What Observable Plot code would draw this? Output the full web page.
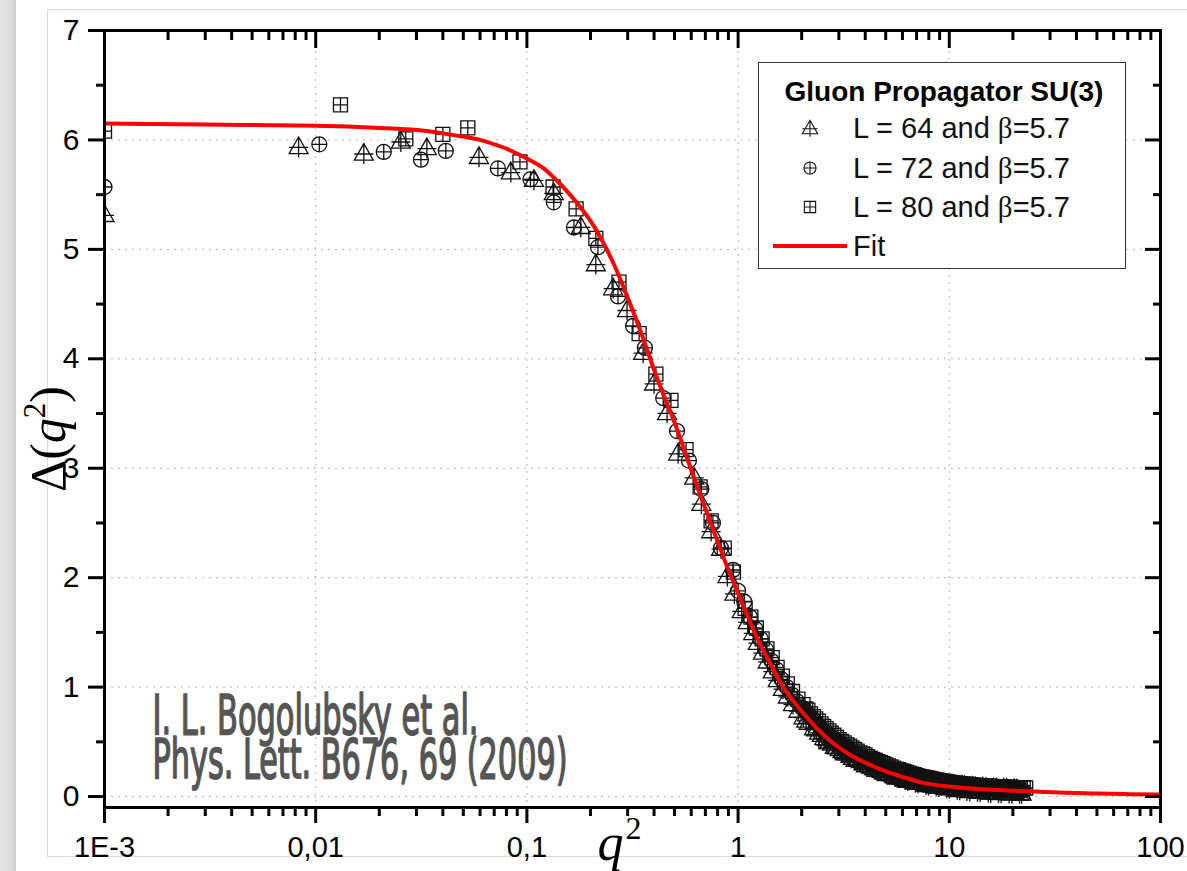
<!DOCTYPE html>
<html><head><meta charset="utf-8">
<script src="https://cdn.jsdelivr.net/npm/d3@7"></script>
<script src="https://cdn.jsdelivr.net/npm/@observablehq/plot@0.6"></script>
<style>
html,body{margin:0;padding:0;background:#fff;}
#wrap{position:relative;width:1187px;height:871px;overflow:hidden;background:#fff;}
#strip{position:absolute;left:0;top:0;width:16px;height:871px;background:linear-gradient(to right,#e6e6e6,#dcdcdc 70%,#cdcdcd);}
#card{position:absolute;left:47px;top:9px;width:1200px;height:848px;border:1px solid #dadada;box-sizing:border-box;}
#chart{position:absolute;left:0;top:0;}
#legend{position:absolute;left:758px;top:62px;width:368px;height:207px;border:1.5px solid #333;background:#fff;box-sizing:border-box;}
</style></head><body>
<div id="wrap"><div id="strip"></div><div id="card"></div><div id="chart"></div><div id="legend"></div></div>
<script>
// ---------- data ----------
const seriesNames = ["L = 64 and \u03b2=5.7", "L = 72 and \u03b2=5.7", "L = 80 and \u03b2=5.7"];

const q2_L64 = [0.001,0.0083,0.0169,0.0253,0.0336,0.0593,0.0839,0.108,0.134,0.180,0.212,0.256,0.298,0.355,0.40,0.461,0.52,0.62,0.67,0.745,0.83,0.89,0.96,1.04,
  1.11,1.18,1.24,1.31,1.38,1.46,1.54,1.63,1.72,1.82,1.93,2.04,2.16,2.29,2.42,2.56,2.71,2.87,3.03,3.21,3.40,3.60,3.81,4.03,4.27,4.52,4.78,5.06,5.36,5.67,6.00,6.35,6.72,7.11,7.53,7.97,8.43,8.92,9.44,9.99,10.6,11.2,11.8,12.5,13.3,14.0,14.9,15.7,16.7,17.6,18.7,19.8,20.9,22.0,
  2.10,2.35,2.49,2.64,2.79,2.95,3.12,3.30,3.50,3.70,3.92,4.15,4.40,4.65,4.92,5.21,5.52,5.83,6.17,6.53,6.91,7.32,7.75,8.20,8.67,9.18,9.71,10.3,10.9,11.5,12.1,12.9,13.6,14.4,15.3,16.2,17.1,18.1,19.2,20.3,21.5];
const d_L64 = [5.32,5.94,5.88,5.99,5.93,5.85,5.71,5.64,5.52,5.21,4.87,4.65,4.45,4.06,3.78,3.51,3.14,2.92,2.68,2.43,2.27,2.02,1.86,1.70,
  1.60,1.50,1.41,1.32,1.24,1.15,1.07,0.99,0.92,0.85,0.79,0.73,0.68,0.63,0.59,0.54,0.51,0.46,0.44,0.40,0.38,0.34,0.33,0.29,0.28,0.25,0.24,0.21,0.21,0.18,0.18,0.15,0.16,0.13,0.14,0.11,0.125,0.095,0.115,0.08,0.105,0.065,0.10,0.055,0.09,0.048,0.085,0.042,0.08,0.038,0.075,0.034,0.07,0.032,
  0.70,0.62,0.57,0.53,0.49,0.46,0.42,0.40,0.36,0.345,0.31,0.295,0.265,0.255,0.225,0.215,0.19,0.185,0.16,0.16,0.135,0.145,0.115,0.13,0.10,0.12,0.085,0.11,0.07,0.105,0.06,0.095,0.052,0.09,0.045,0.082,0.04,0.078,0.036,0.072,0.033];

const q2_L72 = [0.001,0.0104,0.0210,0.0315,0.0413,0.0729,0.104,0.134,0.167,0.217,0.27,0.318,0.362,0.442,0.514,0.585,0.67,0.76,0.83,0.946,1.0,
  1.07,1.14,1.21,1.28,1.36,1.44,1.52,1.61,1.70,1.80,1.90,2.01,2.13,2.25,2.38,2.52,2.66,2.82,2.98,3.15,3.33,3.52,3.73,3.94,4.17,4.41,4.67,4.94,5.22,5.52,5.84,6.18,6.53,6.91,7.31,7.73,8.17,8.64,9.14,9.67,10.2,10.8,11.4,12.1,12.8,13.5,14.3,15.1,16.0,16.9,17.9,18.9,20.0,21.2,22.4,
  2.07,2.19,2.31,2.45,2.59,2.74,2.90,3.06,3.24,3.42,3.62,3.83,4.05,4.29,4.54,4.80,5.08,5.37,5.68,6.01,6.35,6.72,7.11,7.52,7.95,8.40,8.89,9.40,9.94,10.5,11.1,11.7,12.4,13.1,13.9,14.7,15.5,16.4,17.4,18.4,19.4,20.6,21.8];
const d_L72 = [5.57,5.96,5.89,5.82,5.90,5.74,5.64,5.43,5.20,5.02,4.57,4.30,4.10,3.64,3.34,3.07,2.81,2.50,2.27,2.07,1.88,
  1.78,1.64,1.53,1.44,1.34,1.24,1.16,1.07,1.00,0.93,0.87,0.81,0.76,0.71,0.66,0.61,0.57,0.53,0.49,0.46,0.43,0.40,0.37,0.345,0.32,0.30,0.28,0.26,0.24,0.22,0.205,0.19,0.175,0.16,0.15,0.14,0.13,0.12,0.115,0.105,0.10,0.095,0.09,0.085,0.08,0.076,0.072,0.07,0.066,0.064,0.062,0.06,0.058,0.056,0.054,
  0.79,0.735,0.69,0.635,0.59,0.55,0.51,0.475,0.445,0.415,0.385,0.36,0.33,0.31,0.29,0.27,0.25,0.23,0.21,0.195,0.18,0.168,0.155,0.145,0.135,0.125,0.118,0.11,0.102,0.098,0.092,0.088,0.082,0.078,0.074,0.071,0.068,0.065,0.063,0.061,0.059,0.057,0.055];

const q2_L80 = [0.001,0.0131,0.0267,0.040,0.0525,0.0927,0.133,0.171,0.212,0.273,0.34,0.408,0.481,0.567,0.661,0.745,0.86,0.95,1.08,
  1.15,1.22,1.30,1.37,1.45,1.53,1.62,1.71,1.81,1.92,2.03,2.14,2.27,2.40,2.54,2.69,2.84,3.01,3.18,3.37,3.56,3.77,3.99,4.22,4.47,4.73,5.00,5.29,5.60,5.93,6.27,6.64,7.02,7.43,7.86,8.32,8.80,9.31,9.85,10.4,11.0,11.7,12.3,13.1,13.8,14.6,15.5,16.4,17.3,18.3,19.4,20.5,21.7,23.0,
  2.6,3.1,3.6,4.1,4.7,5.4,6.2,7.1,8.1,9.2,10.5,11.9,13.5,15.3,17.3,19.6,22.2,
  2.09,2.2,2.33,2.47,2.61,2.76,2.92,3.09,3.27,3.46,3.66,3.88,4.10,4.34,4.60,4.86,5.14,5.44,5.76,6.10,6.45,6.83,7.22,7.64,8.09,8.56,9.05,9.58,10.1,10.7,11.3,12.0,12.7,13.4,14.2,15.0,15.9,16.8,17.8,18.8,19.9,21.1,22.4,
  2.85,3.35,3.85,4.4,5.0,5.8,6.6,7.6,8.6,9.8,11.2,12.7,14.4,16.3,18.4,20.8];
const d_L80 = [6.08,6.32,6.01,6.05,6.11,5.80,5.57,5.37,5.10,4.70,4.23,3.86,3.62,3.17,2.83,2.52,2.27,2.05,1.72,
  1.64,1.54,1.44,1.35,1.27,1.18,1.10,1.03,0.96,0.89,0.84,0.79,0.73,0.69,0.64,0.60,0.56,0.52,0.49,0.46,0.43,0.40,0.38,0.35,0.33,0.31,0.29,0.27,0.25,0.235,0.22,0.205,0.19,0.18,0.17,0.16,0.15,0.14,0.135,0.125,0.12,0.115,0.11,0.105,0.10,0.097,0.094,0.091,0.088,0.086,0.084,0.082,0.08,0.078,
  0.50,0.41,0.35,0.29,0.24,0.195,0.16,0.13,0.105,0.09,0.075,0.062,0.052,0.045,0.04,0.036,0.033,
  0.80,0.755,0.71,0.665,0.62,0.58,0.54,0.505,0.475,0.445,0.415,0.39,0.365,0.34,0.32,0.30,0.28,0.26,0.245,0.23,0.215,0.20,0.185,0.175,0.165,0.155,0.145,0.138,0.13,0.122,0.118,0.112,0.108,0.102,0.099,0.096,0.093,0.09,0.087,0.085,0.083,0.081,0.079,
  0.455,0.38,0.32,0.265,0.215,0.175,0.145,0.118,0.098,0.082,0.068,0.057,0.048,0.042,0.038,0.034];

const fitQ2 = [0.001,0.003,0.01,0.02,0.03,0.04,0.05,0.06,0.07,0.08,0.1,0.12,0.14,0.16,0.18,0.2,0.23,0.26,0.3,0.35,0.4,0.45,0.5,0.56,0.63,0.7,0.8,0.9,1.0,1.1,1.25,1.4,1.6,1.8,2.0,2.4,2.85,3.4,4.1,5.0,6.0,7.5,10,15,22,33,50,70,100];
const fitDelta = [6.15,6.14,6.13,6.11,6.09,6.06,6.03,6.00,5.96,5.92,5.83,5.74,5.62,5.50,5.38,5.26,5.06,4.85,4.56,4.22,3.90,3.64,3.42,3.15,2.87,2.63,2.33,2.07,1.86,1.67,1.42,1.24,1.03,0.89,0.78,0.61,0.48,0.38,0.30,0.23,0.18,0.125,0.092,0.065,0.05,0.037,0.028,0.022,0.018];

const xMajorTicks = [0.001,0.01,0.1,1,10,100];
const xTickLabels = ["1E-3","0,01","0,1","1","10","100"];
const yMajorTicks = [0,1,2,3,4,5,6,7];
const yMinorTicks = [0.5,1.5,2.5,3.5,4.5,5.5,6.5];
const xMinorTicks = [];
for (const dec of [0.001,0.01,0.1,1,10]) for (let m = 2; m <= 9; m++) xMinorTicks.push(+(m*dec).toPrecision(3));
const xGrid = [0.01,0.1,1,10];
const yGrid = [0,1,2,3,4,5,6];

const legendTitle = "Gluon Propagator SU(3)";
const fitLabel = "Fit";
const xTitle = "q";
const yTitle = "\u0394(q\u00b2)";
const annotLines = ["I. L. Bogolubsky et al.", "Phys. Lett. B676, 69 (2009)"];
const annotWidths = [326, 415];

// ---------- symbols ----------
const triPlus = {draw(ctx, size){ const s = Math.sqrt(size/Math.PI);
  ctx.moveTo(0,-s); ctx.lineTo(s,0.75*s); ctx.lineTo(-s,0.75*s); ctx.closePath();
  ctx.moveTo(0,-s); ctx.lineTo(0,1.15*s);
  ctx.moveTo(-s,0.1*s); ctx.lineTo(s,0.1*s); }};
const circPlus = {draw(ctx, size){ const s = Math.sqrt(size/Math.PI);
  ctx.moveTo(s,0); ctx.arc(0,0,s,0,2*Math.PI);
  ctx.moveTo(-s,0); ctx.lineTo(s,0); ctx.moveTo(0,-s); ctx.lineTo(0,s); }};
const sqPlus = {draw(ctx, size){ const s = Math.sqrt(size/Math.PI);
  ctx.rect(-s,-s,2*s,2*s);
  ctx.moveTo(-s,0); ctx.lineTo(s,0); ctx.moveTo(0,-s); ctx.lineTo(0,s); }};
const symbols = [triPlus, circPlus, sqPlus];
const radii = [9.5, 7.5, 7];

const rows = (q, d) => q.map((v,i) => ({q2: v, delta: d[i]}));
const series = [rows(q2_L64,d_L64), rows(q2_L72,d_L72), rows(q2_L80,d_L80)];
const fit = rows(fitQ2, fitDelta);

const F = "Liberation Sans, Arial, sans-serif";
const NARROW = "Liberation Sans Narrow, DejaVu Sans Condensed, sans-serif";
const dotOpts = i => ({x:"q2", y:"delta", symbol: symbols[i], r: radii[i], stroke:"#111", strokeWidth:1.3, fill:"none", clip:true});
const noLabel = () => "";

const plot = Plot.plot({
  width: 1187, height: 871,
  marginLeft: 104, marginRight: 27, marginTop: 30, marginBottom: 64,
  style: {background: "transparent", fontFamily: F, overflow: "visible"},
  x: {type: "log", domain: [0.001, 100]},
  y: {domain: [-0.1, 7]},
  marks: [
    Plot.ruleX(xGrid, {stroke:"#b4b4b4", strokeDasharray:"2,5", strokeWidth:1}),
    Plot.ruleY(yGrid, {stroke:"#b4b4b4", strokeDasharray:"2,5", strokeWidth:1}),
    Plot.dot(series[0], dotOpts(0)),
    Plot.dot(series[1], dotOpts(1)),
    Plot.dot(series[2], dotOpts(2)),
    Plot.line(fit, {x:"q2", y:"delta", stroke:"#ff0000", strokeWidth:4, curve:"monotone-x", clip:true}),
    Plot.frame({stroke:"#000", strokeWidth:3}),
    Plot.axisY(yMajorTicks, {anchor:"left", tickSize:16, tickPadding:9, strokeWidth:3, fontSize:30, fontFamily:F, tickFormat:d=>String(d), label:null, color:"#000"}),
    Plot.axisY(yMinorTicks, {anchor:"left", tickSize:8, strokeWidth:3, tickFormat:noLabel, label:null}),
    Plot.axisY(yMajorTicks, {anchor:"right", tickSize:-16, strokeWidth:3, tickFormat:noLabel, label:null}),
    Plot.axisY(yMinorTicks, {anchor:"right", tickSize:-8, strokeWidth:3, tickFormat:noLabel, label:null}),
    Plot.axisX(xMajorTicks, {anchor:"bottom", tickSize:16, tickPadding:13, strokeWidth:3, fontSize:29, fontFamily:F, tickFormat:d=>xTickLabels[xMajorTicks.indexOf(d)], label:null, color:"#000"}),
    Plot.axisX(xMinorTicks, {anchor:"bottom", tickSize:9, strokeWidth:3, tickFormat:noLabel, label:null}),
    Plot.axisX(xMajorTicks, {anchor:"top", tickSize:-17, strokeWidth:3, tickFormat:noLabel, label:null}),
    Plot.axisX(xMinorTicks, {anchor:"top", tickSize:-9, strokeWidth:3, tickFormat:noLabel, label:null}),
    Plot.text([annotLines.join("\n")], {frameAnchor:"bottom-left", dx:48, dy:-66, textAnchor:"start", lineAnchor:"middle", lineHeight:0.8, fontSize:55, fontFamily:NARROW, fill:"#555", stroke:"#555", strokeWidth:1.6, ariaDescription:"annot"}),
    Plot.text([yTitle], {frameAnchor:"left", dx:-56, dy:20, rotate:-90, textAnchor:"middle", lineAnchor:"middle", fontSize:50, fontFamily:"Liberation Serif, serif", fill:"#000", ariaDescription:"ytitle"}),
    Plot.text([xTitle], {frameAnchor:"bottom", dx:-13, dy:36, textAnchor:"middle", lineAnchor:"middle", fontSize:52, fontFamily:"Liberation Serif, serif", fontStyle:"italic", fill:"#000", ariaDescription:"xtitle"})
  ]
});
document.getElementById("chart").appendChild(plot);

const svg = d3.select(plot);
// squeeze each condensed annotation line to its measured width
svg.selectAll('g[aria-description="annot"] tspan').each(function(d, i) {
  d3.select(this).attr("textLength", annotWidths[i]).attr("lengthAdjust", "spacingAndGlyphs");
});
// y title: Δ(q²) with italic q and superscript
{
  const t = svg.select('g[aria-description="ytitle"] text');
  t.text(null);
  t.append("tspan").text("\u0394(");
  t.append("tspan").attr("font-style","italic").text("q");
  t.append("tspan").attr("font-size", 31).attr("dy", -20).text("2");
  t.append("tspan").attr("dy", 20).text(")");
}
{
  const t = svg.select('g[aria-description="xtitle"] text');
  t.append("tspan").attr("font-style","normal").attr("font-size", 32).attr("dy", -21).attr("dx", 2).text("2");
}

// ---------- legend ----------
const lg = d3.select("#legend").append("svg").attr("width", 365).attr("height", 204).style("display","block");
lg.append("text").attr("x", 185).attr("y", 38).attr("text-anchor","middle")
  .attr("font-family", F).attr("font-weight","bold").attr("font-size", 28).text(legendTitle);
const rowY = [65, 105, 144];
seriesNames.forEach((name, i) => {
  const p = d3.path(); symbols[i].draw(p, radii[i]*radii[i]*Math.PI*0.65);
  lg.append("path").attr("d", p.toString()).attr("transform", `translate(51,${rowY[i]})`)
    .attr("fill","none").attr("stroke","#111").attr("stroke-width",1.1);
  const tx = lg.append("text").attr("x", 94).attr("y", rowY[i]).attr("dy","0.36em")
    .attr("font-family", F).attr("font-size", 29).attr("fill","#111");
  const parts = name.split("\u03b2");
  tx.append("tspan").text(parts[0]);
  tx.append("tspan").attr("font-family","Liberation Serif, serif").text("\u03b2");
  tx.append("tspan").text(parts[1]);
});
lg.append("line").attr("x1", 14).attr("x2", 88).attr("y1", 183).attr("y2", 183).attr("stroke","#ff0000").attr("stroke-width",4);
lg.append("text").attr("x", 94).attr("y", 183).attr("dy","0.36em").attr("font-family", F).attr("font-size", 29).attr("fill","#111").text(fitLabel);
</script>
</body></html>
